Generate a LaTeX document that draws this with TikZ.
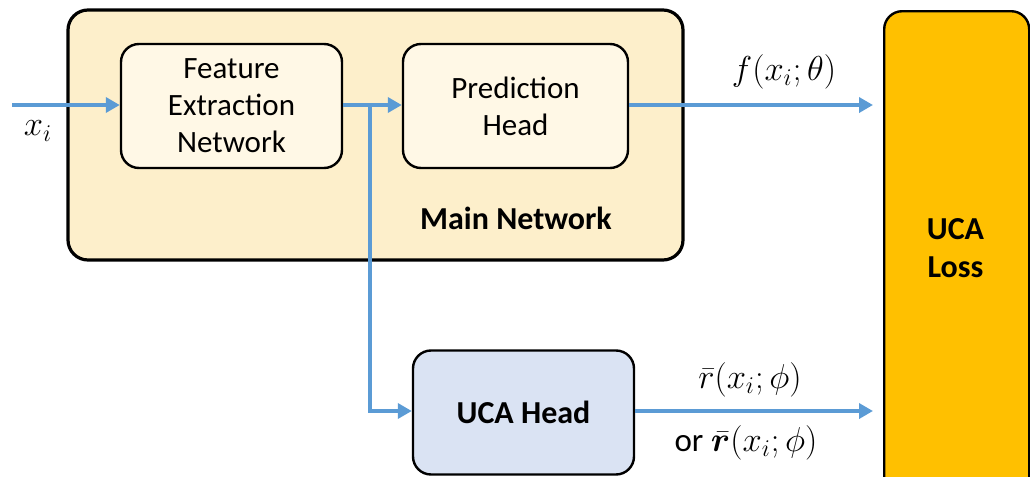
\documentclass[tikz,border=0pt]{standalone}
\usepackage{amsmath,amssymb,bm}
\usepackage{fontspec}
\setmainfont{Carlito}
\usetikzlibrary{arrows.meta}
\definecolor{mainfill}{HTML}{FDEFCB}
\definecolor{subfill}{HTML}{FFF8E6}
\definecolor{headfill}{HTML}{DAE3F3}
\definecolor{lossfill}{HTML}{FFC000}
\definecolor{arrowblue}{HTML}{5B9BD5}
\tikzset{
  box/.style={draw=black, line width=1.2pt, rounded corners=9pt},
  flow/.style={draw=arrowblue, line width=2pt, -{Triangle[length=7pt,width=7.5pt]}},
  lbl/.style={font=\fontsize{15.5}{18.5}\selectfont, align=center},
  mlbl/.style={font=\fontsize{16.5}{19}\selectfont, align=center, inner sep=1pt},
  blbl/.style={font=\fontsize{16}{19}\selectfont\bfseries, align=center},
}
\begin{document}
\begin{tikzpicture}[x=0.5pt,y=-0.5pt]
\useasboundingbox (0,0) rectangle (1030,477);
% boxes
\draw[box, line width=1.6pt, fill=mainfill, rounded corners=10pt] (68,10) rectangle (683,260);
\node[box, fill=subfill, minimum width=110.5pt, minimum height=62pt, lbl] (fe) at (231.5,106) {Feature\\Extraction\\Network};
\node[box, fill=subfill, minimum width=112.5pt, minimum height=62pt, lbl] (ph) at (515.5,106) {Prediction\\Head};
\node[blbl] (mn) at (516,218) {Main Network};
\node[box, fill=headfill, minimum width=110.5pt, minimum height=62pt, blbl] (uh) at (523.5,412.5) {UCA Head};
\node[box, fill=lossfill, minimum width=72.5pt, minimum height=245pt, anchor=north west] (loss) at (883,10) {};
\node[blbl] (losslbl) at (955.5,248) {UCA\\Loss};
% coordinates
\coordinate (in) at (12,105);
\coordinate (br) at (370,105);
\coordinate (out1) at (873,105);
\coordinate (out2) at (873,411);
% arrows
\draw[flow] (in) -- (fe.west |- in);
\draw[flow] (fe.east |- br) -- (ph.west |- br);
\draw[flow] (br) |- (uh.west |- out2);
\draw[flow] (ph.east |- out1) -- (out1);
\draw[flow] (uh.east |- out2) -- (out2);
% labels
\node[mlbl] (xi) at (38,131) {$x_i$};
\node[mlbl] (fl) at (784,72) {$f(x_i;\theta)$};
\node[mlbl] (rl) at (750,380) {$\bar{r}(x_i;\phi)$};
\node[mlbl] (rl2) at (746,443) {or $\bar{\bm{r}}(x_i;\phi)$};
\end{tikzpicture}
\end{document}
